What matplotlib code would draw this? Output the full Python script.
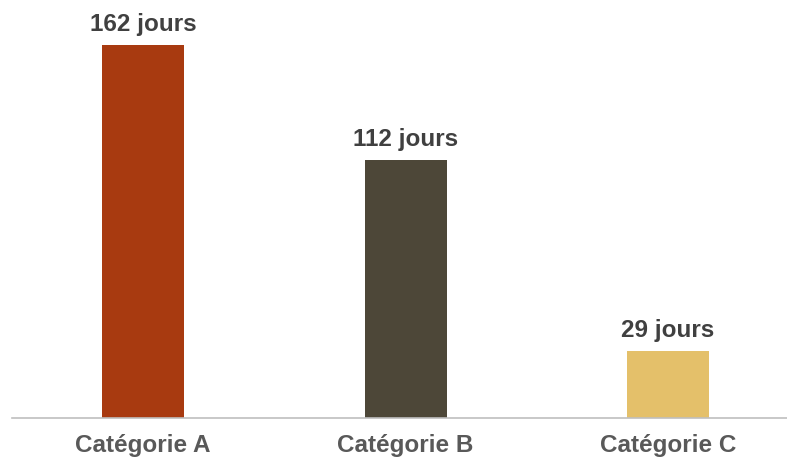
import matplotlib
matplotlib.use("Agg")
import matplotlib.pyplot as plt

categories = ["Catégorie A", "Catégorie B", "Catégorie C"]
values = [162, 112, 29]
labels = ["162 jours", "112 jours", "29 jours"]
colors = ["#A83A10", "#4D4738", "#E4C06A"]

plt.rcParams['font.family'] = ['Liberation Sans', 'DejaVu Sans']

fig = plt.figure(figsize=(7.87, 4.66), dpi=100)
ax = fig.add_axes([12/787, 48/466, 1 - 12/787, 1 - 48/466])

x = list(range(len(categories)))
bars = ax.bar(x, values, width=0.312, color=colors)
for xi, v, lab in zip(x, values, labels):
    ax.annotate(lab, (xi, v), xytext=(0, 7), textcoords="offset points",
                ha="center", va="bottom", fontsize=17.5, fontweight="bold",
                color="#404040")

ax.set_xlim(-0.5, 2.453)
ax.set_ylim(0, 181.7)
ax.set_xticks(x)
ax.set_xticklabels(categories, fontsize=17.5, fontweight="bold", color="#595959")
ax.tick_params(axis="x", length=0, pad=11.5)
ax.set_yticks([])
for s in ["top", "right", "left"]:
    ax.spines[s].set_visible(False)
ax.spines["bottom"].set_color("#BFBFBF")
ax.spines["bottom"].set_linewidth(1.2)

fig.savefig("out.png", dpi=100)
